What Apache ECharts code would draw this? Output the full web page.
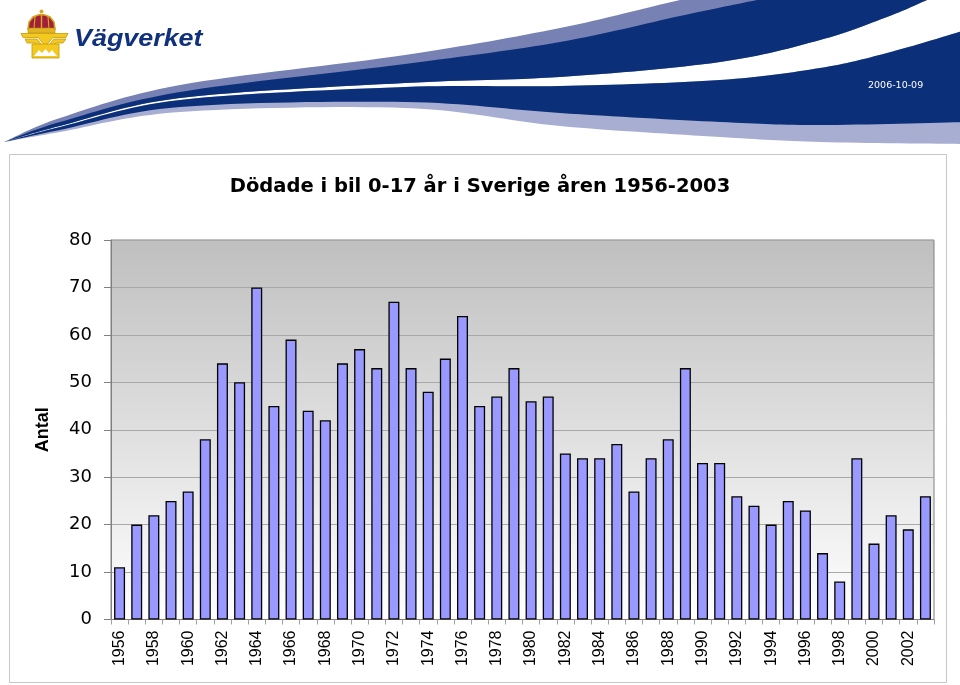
<!DOCTYPE html>
<html>
<head>
<meta charset="utf-8">
<script src="https://cdn.jsdelivr.net/npm/echarts@6/dist/echarts.min.js"></script>
<style>
  html, body { margin: 0; padding: 0; background: #ffffff; }
  #chart { width: 960px; height: 685px; }
</style>
</head>
<body>
<div id="chart"></div>
<script>
// ---- data ----
const years = ['1956','1957','1958','1959','1960','1961','1962','1963','1964','1965',
  '1966','1967','1968','1969','1970','1971','1972','1973','1974','1975',
  '1976','1977','1978','1979','1980','1981','1982','1983','1984','1985',
  '1986','1987','1988','1989','1990','1991','1992','1993','1994','1995',
  '1996','1997','1998','1999','2000','2001','2002','2003'];
const deaths = [11,20,22,25,27,38,54,50,70,45,
  59,44,42,54,57,53,67,53,48,55,
  64,45,47,53,46,47,35,34,34,37,
  27,34,38,53,33,33,26,24,20,25,
  23,14,8,34,16,22,19,26];
const yMin = 0, yMax = 80, yStep = 10;
const titleText = 'Dödade i bil 0-17 år i Sverige åren 1956-2003';
const yName = 'Antal';
const brandText = 'Vägverket';
const dateText = '2006-10-09';

// ---- decorative header geometry (not data) ----
function smoothPts(pts) {
  const out = [pts[0]];
  for (let i = 0; i < pts.length - 1; i++) {
    const p0 = pts[i - 1] || pts[i], p1 = pts[i], p2 = pts[i + 1], p3 = pts[i + 2] || p2;
    const c1 = [p1[0] + (p2[0] - p0[0]) / 6, p1[1] + (p2[1] - p0[1]) / 6];
    const c2 = [p2[0] - (p3[0] - p1[0]) / 6, p2[1] - (p3[1] - p1[1]) / 6];
    for (let k = 1; k <= 16; k++) {
      const t = k / 16, u = 1 - t;
      out.push([
        u*u*u*p1[0] + 3*u*u*t*c1[0] + 3*u*t*t*c2[0] + t*t*t*p2[0],
        u*u*u*p1[1] + 3*u*u*t*c1[1] + 3*u*t*t*c2[1] + t*t*t*p2[1]
      ]);
    }
  }
  return out;
}
function band(upper, lower) {
  return smoothPts(upper).concat(smoothPts(lower.slice().reverse()));
}
const lavTop   = [[4,142],[60,118],[180,85],[405,55],[560,28],[680,0],[760,-16]];
const lavDark  = [[4,142],[60,122],[180,92],[405,64],[560,42],[680,16],[757,0],[830,-14]];
const darkBot  = [[4,142],[60,126],[180,98],[405,83],[560,77],[720,62],[820,40],[887,17],[927,0],[955,-12]];
const whiteBot = [[4,142],[60,127],[180,100],[405,87],[560,86],[720,80],[820,68],[887,53],[966,30]];
const lowDark  = [[4,142],[60,130],[180,107],[405,102],[560,113],[720,122],[820,125],[966,122]];
const lightLav = [[4,142],[60,132],[180,112],[405,108],[560,126],[720,137],[820,142],[966,144]];

const navy = '#0b3079';
const gold = '#f3c91f', goldDark = '#c49a0c';

const chart = echarts.init(document.getElementById('chart'), null, { renderer: 'canvas' });
chart.setOption({
  backgroundColor: '#ffffff',
  animation: false,
  title: {
    text: titleText,
    left: 'center',
    top: 172,
    textStyle: { fontFamily: 'DejaVu Sans', fontWeight: 'bold', fontSize: 19.5, color: '#000' }
  },
  graphic: [
    { type: 'rect', z: -10, silent: true, shape: { x: 9.5, y: 154.5, width: 937, height: 528 },
      style: { fill: '#ffffff', stroke: '#c8c8c8', lineWidth: 1 } },
    { type: 'polygon', z: -5, silent: true, shape: { points: band(lavTop, darkBot) }, style: { fill: '#7881b3' } },
    { type: 'polygon', z: -4, silent: true, shape: { points: band(lavDark, darkBot) }, style: { fill: navy } },
    { type: 'polygon', z: -5, silent: true, shape: { points: band(whiteBot, lightLav) }, style: { fill: '#a8aed1' } },
    { type: 'polygon', z: -4, silent: true, shape: { points: band(whiteBot, lowDark) }, style: { fill: navy } },
    { type: 'text', z: 5, silent: true, x: 868, y: 86,
      style: { text: dateText, fill: '#ffffff', font: '9.5px "DejaVu Sans"', verticalAlign: 'middle', align: 'left' } },
    // logo emblem
    { type: 'group', z: 5, silent: true, children: [
      { type: 'polygon', shape: { points: [[28,29],[29,22],[33,17],[38,15],[41.5,14.5],[45,15],[50,17],[54,22],[55,29]] },
        style: { fill: '#a0203a', stroke: '#d9a81e', lineWidth: 1.6 } },
      { type: 'line', shape: { x1: 41.5, y1: 14.5, x2: 41.5, y2: 29 }, style: { stroke: '#d9a81e', lineWidth: 1.4 } },
      { type: 'line', shape: { x1: 35, y1: 16.5, x2: 34, y2: 29 }, style: { stroke: '#d9a81e', lineWidth: 1.1 } },
      { type: 'line', shape: { x1: 48, y1: 16.5, x2: 49, y2: 29 }, style: { stroke: '#d9a81e', lineWidth: 1.1 } },
      { type: 'circle', shape: { cx: 41.5, cy: 11.5, r: 2 }, style: { fill: '#d9a81e' } },
      { type: 'rect', shape: { x: 28, y: 28, width: 27, height: 5 }, style: { fill: '#e2b524', stroke: '#b88a10', lineWidth: 0.6 } },
      { type: 'polygon', shape: { points: [[21,33.5],[68,33.5],[66,37.5],[53,37.5],[45.5,46],[38,37.5],[23,37.5]] },
        style: { fill: gold, stroke: goldDark, lineWidth: 0.8 } },
      { type: 'polygon', shape: { points: [[25,39],[37,39],[45.5,49],[54,39],[66,39],[63,43],[56,43],[45.5,54],[35,43],[27,43]] },
        style: { fill: gold, stroke: goldDark, lineWidth: 0.8 } },
      { type: 'rect', shape: { x: 32, y: 44, width: 27, height: 14 }, style: { fill: gold, stroke: goldDark, lineWidth: 0.8 } },
      { type: 'polygon', shape: { points: [[34,56],[39,50],[42,53],[45.5,49],[49,53],[52,50],[57,56]] },
        style: { fill: '#ffffff' } }
    ]},
    { type: 'text', z: 5, silent: true, x: 74, y: 39, scaleX: 1.12,
      style: { text: brandText, fill: '#10317e', font: 'italic bold 24px "Liberation Sans"', verticalAlign: 'middle', align: 'left' } }
  ],
  grid: {
    left: 111, top: 240, width: 823, height: 379.5,
    show: true,
    borderColor: '#808080', borderWidth: 1,
    backgroundColor: {
      type: 'linear', x: 0, y: 0, x2: 0, y2: 1,
      colorStops: [{ offset: 0, color: '#bfbfbf' }, { offset: 1, color: '#ffffff' }]
    }
  },
  xAxis: {
    type: 'category',
    data: years,
    boundaryGap: true,
    axisLine: { show: true, lineStyle: { color: '#808080', width: 1 } },
    axisTick: { show: true, interval: 0, length: 5, lineStyle: { color: '#a0a0a0' } },
    axisLabel: { interval: 1, rotate: 90, margin: 11, color: '#000',
      fontFamily: 'Liberation Sans', fontSize: 16 },
    splitLine: { show: false }
  },
  yAxis: {
    type: 'value',
    min: yMin, max: yMax, interval: yStep,
    name: yName,
    nameLocation: 'middle',
    nameRotate: 90,
    nameGap: 59,
    nameTextStyle: { fontFamily: 'Liberation Sans', fontWeight: 'bold', fontSize: 18, color: '#000' },
    axisLine: { show: true, lineStyle: { color: '#808080', width: 1 } },
    axisTick: { show: true, inside: false, length: 7, lineStyle: { color: '#808080' } },
    axisLabel: { margin: 19, color: '#000', fontFamily: 'DejaVu Sans', fontSize: 18 },
    splitLine: { show: true, lineStyle: { color: '#a8a8a8', width: 1 } }
  },
  series: [{
    type: 'bar',
    data: deaths,
    barCategoryGap: '36%',
    itemStyle: { color: '#9999ff', borderColor: '#000000', borderWidth: 1.3 }
  }]
});
</script>
</body>
</html>
